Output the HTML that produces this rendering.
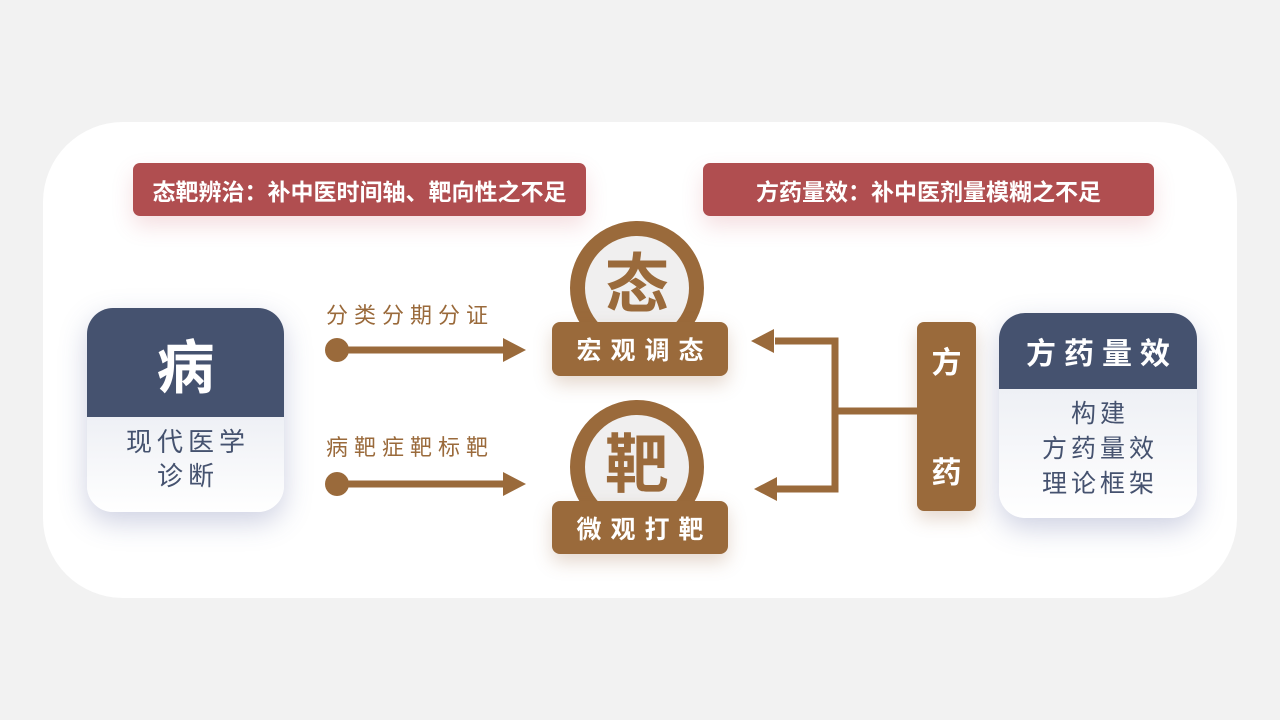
<!DOCTYPE html>
<html><head><meta charset="utf-8"><style>
*{margin:0;padding:0;box-sizing:border-box}
body{width:1280px;height:720px;background:#f2f2f2;position:relative;overflow:hidden;font-family:"Liberation Sans","Noto Sans CJK SC",sans-serif}
.a{position:absolute}
.panel{left:43px;top:122px;width:1194px;height:476px;background:#fff;border-radius:80px}
.ban{background:#b04e50;color:#fff;font-weight:bold;font-size:23px;border-radius:7px;display:flex;align-items:center;justify-content:center;box-shadow:0 10px 22px rgba(200,80,90,.18)}
.card{background:#fff;border-radius:26px;overflow:hidden;box-shadow:0 10px 28px rgba(80,90,150,.28)}
.hd{background:#45526f;color:#fff;font-weight:bold;display:flex;align-items:center;justify-content:center}
.bd{color:#45526f;text-align:center;background:linear-gradient(#eef0f5,#fff)}
.lab{background:#9a6a3b;color:#fff;font-weight:bold;font-size:25px;letter-spacing:9px;border-radius:8px;display:flex;align-items:center;justify-content:center;padding-left:9px;box-shadow:0 8px 18px rgba(150,100,60,.25)}
.circ{border-radius:50%;border:15px solid #9a6a3b;background:#f0efef;color:#9a6a3b;font-weight:bold;font-size:64px;display:flex;justify-content:center;line-height:1}
.t{color:#9a6a3b;font-size:22px;letter-spacing:6px}
</style></head><body>
<div class="a panel"></div>
<div class="a ban" style="left:133px;top:163px;width:453px;height:53px">态靶辨治：补中医时间轴、靶向性之不足</div>
<div class="a ban" style="left:703px;top:163px;width:451px;height:53px">方药量效：补中医剂量模糊之不足</div>

<div class="a card" style="left:87px;top:308px;width:197px;height:204px">
 <div class="hd" style="height:109px;font-size:58px">病</div>
 <div class="bd" style="height:95px;font-size:26px;letter-spacing:5px;line-height:34px;padding-top:8px;padding-left:5px">现代医学<br>诊断</div>
</div>
<div class="a card" style="left:999px;top:313px;width:198px;height:205px">
 <div class="hd" style="height:76px;font-size:30px;letter-spacing:8px;padding-left:8px">方药量效</div>
 <div class="bd" style="height:129px;font-size:25px;letter-spacing:4px;line-height:35px;padding-top:8px;padding-left:4px">构建<br>方药量效<br>理论框架</div>
</div>

<div class="a t" style="left:326px;top:298px">分类分期分证</div>
<div class="a t" style="left:326px;top:430px">病靶症靶标靶</div>

<div class="a circ" style="left:570px;top:221px;width:134px;height:134px;padding-top:17px">态</div>
<div class="a lab" style="left:552px;top:322px;width:176px;height:54px">宏观调态</div>
<div class="a circ" style="left:570px;top:400px;width:134px;height:134px;padding-top:18px">靶</div>
<div class="a lab" style="left:552px;top:501px;width:176px;height:53px">微观打靶</div>

<div class="a" style="left:917px;top:322px;width:59px;height:189px;background:#9a6a3b;border-radius:7px;color:#fff;font-weight:bold;font-size:30px;text-align:center;box-shadow:0 8px 18px rgba(150,100,60,.25)"><div style="margin-top:16px">方</div><div style="margin-top:66px">药</div></div>

<svg class="a" style="left:0;top:0" width="1280" height="720">
 <g fill="#9a6a3b" stroke="#9a6a3b">
  <circle cx="337" cy="350" r="12" stroke="none"/>
  <line x1="337" y1="350" x2="506" y2="350" stroke-width="7"/>
  <polygon points="503,338 526,350 503,362" stroke="none"/>
  <circle cx="337" cy="484" r="12" stroke="none"/>
  <line x1="337" y1="484" x2="506" y2="484" stroke-width="7"/>
  <polygon points="503,472 526,484 503,496" stroke="none"/>
  <polyline points="775,341 835,341 835,489 777,489" fill="none" stroke-width="7"/>
  <line x1="835" y1="411" x2="918" y2="411" stroke-width="7"/>
  <polygon points="774,329 751,341 774,353" stroke="none"/>
  <polygon points="777,477 754,489 777,501" stroke="none"/>
 </g>
</svg>
</body></html>
